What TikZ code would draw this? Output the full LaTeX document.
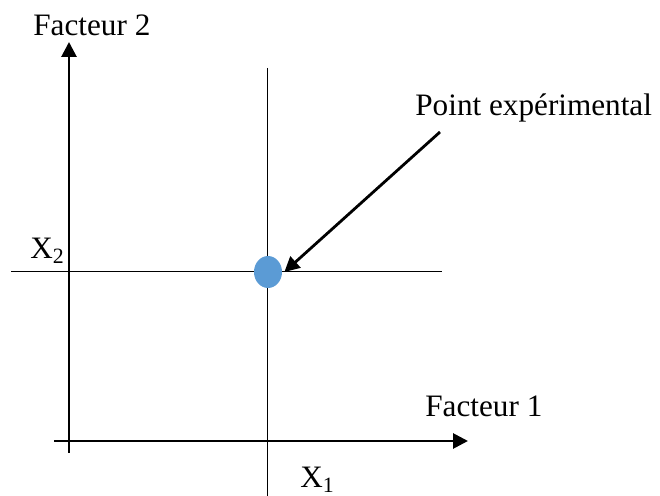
\documentclass[tikz,border=0pt]{standalone}
\usepackage{fontspec}
\setmainfont{Liberation Serif}
\usetikzlibrary{arrows.meta,shapes.geometric}
\definecolor{pointblue}{HTML}{5B9BD5}
\tikzset{
  axis/.style={line width=1.4pt, -{Triangle[length=7.5pt, width=7.5pt]}},
  guide/.style={line width=0.5pt},
  lbl/.style={anchor=base west, inner sep=0pt, font=\fontsize{15.6}{18}\selectfont}
}
\begin{document}
\begin{tikzpicture}[x=0.5pt, y=-0.5pt]
	\useasboundingbox (0,0) rectangle (660,496);

	% Axes
	\coordinate (yfoot) at (69,453);
	\coordinate (ytip) at (69,42);
	\coordinate (xfoot) at (54,441);
	\coordinate (xtip) at (468,441);
	\draw[axis] (yfoot) -- (ytip);
	\draw[axis] (xfoot) -- (xtip);
	\node[lbl] (fac2) at (33,36) {Facteur 2};
	\node[lbl] (fac1) at (425,417) {Facteur 1};

	% Levels of the two factors
	\coordinate (vtop) at (267,68);
	\coordinate (vbot) at (267,496);
	\coordinate (hleft) at (11,272);
	\coordinate (hright) at (442,272);
	\draw[guide] (vtop) -- (vbot);
	\draw[guide] (hleft) -- (hright);
	\node[lbl] (x1) at (300,488) {X\textsubscript{1}};
	\node[lbl] (x2) at (30,259) {X\textsubscript{2}};

	% Experimental point
	\node[ellipse, fill=pointblue, inner sep=0pt, minimum width=14pt, minimum height=16pt] (pt) at (268,272) {};
	\node[lbl] (ptlabel) at (415,116) {Point expérimental};
	\coordinate (arrstart) at (440,132);
	\draw[line width=1.4pt, -{Triangle[length=7.5pt, width=7.5pt]}] (arrstart) -- ([xshift=1pt]pt.east);
\end{tikzpicture}
\end{document}
